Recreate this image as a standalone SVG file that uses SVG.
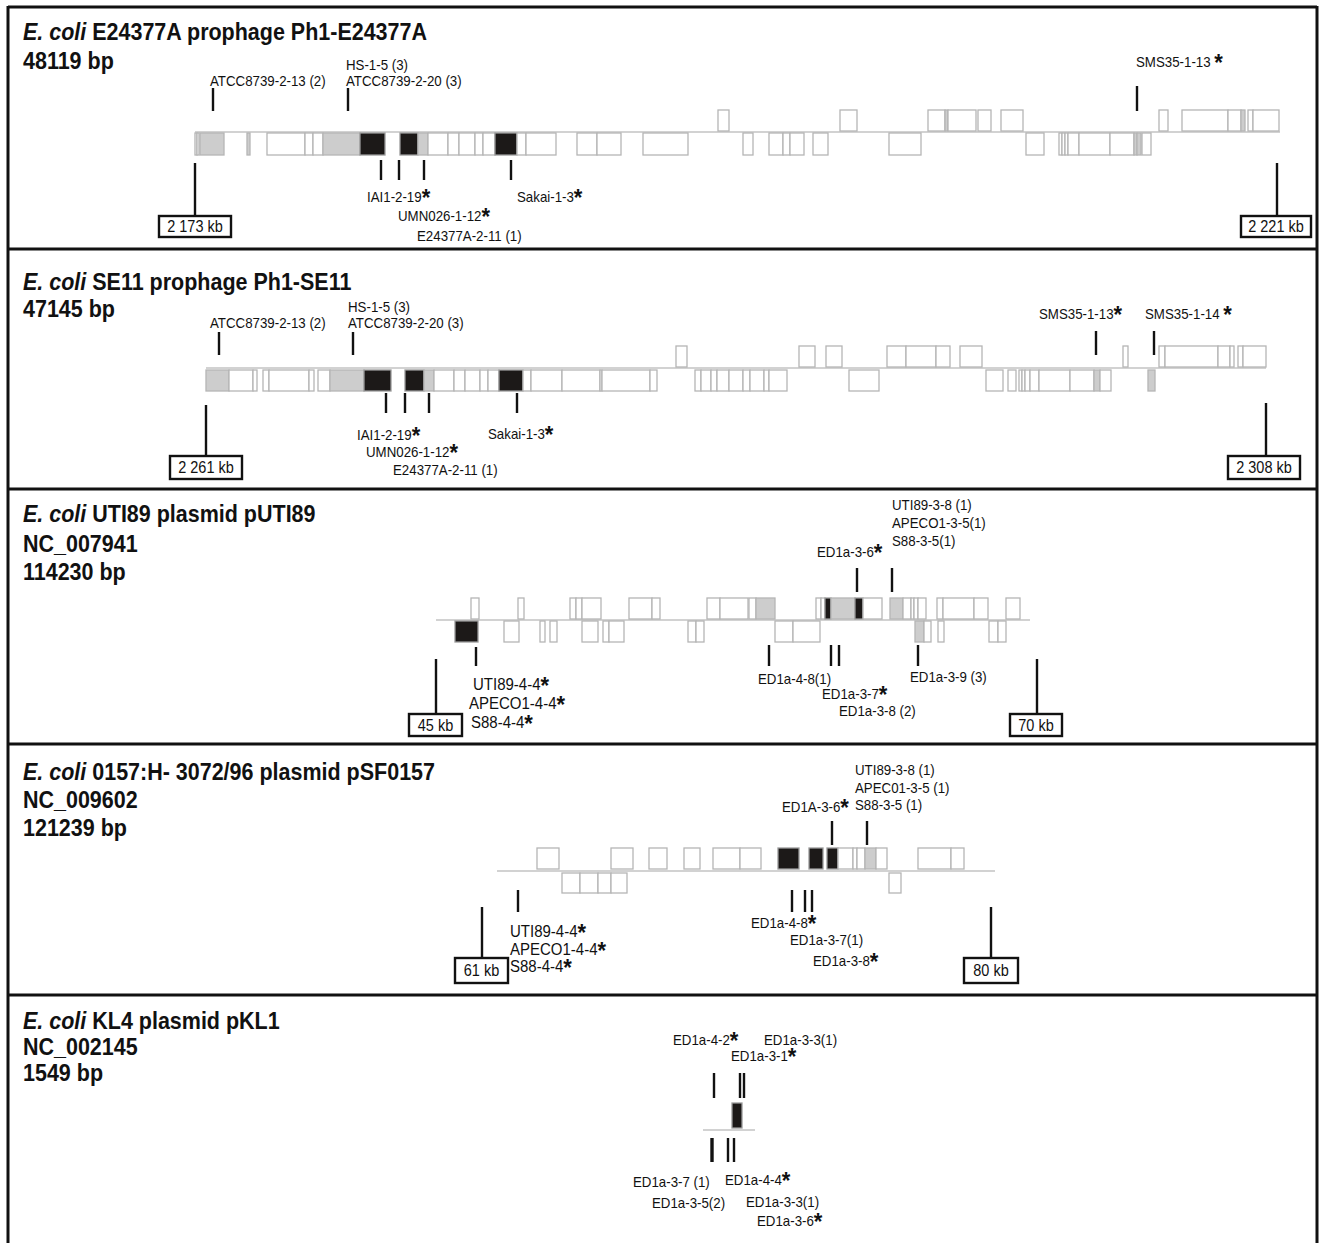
<svg xmlns="http://www.w3.org/2000/svg" width="1320" height="1243" viewBox="0 0 1320 1243">
<style>
text{font-family:"Liberation Sans",Arial,sans-serif;fill:#111;transform-box:fill-box;transform-origin:0% 100%;transform:scaleY(1.08)}
.ti{font-size:21.5px;font-weight:bold}
.it{font-style:italic}
.lb{font-size:13.3px}
.lb2{font-size:15px}
.st{font-size:22px;font-weight:bold}
.kt{font-size:14.5px;text-anchor:middle}
.trk{stroke:#d2d2d2;stroke-width:2;fill:none}
.genes rect{fill:#fff;stroke:#b5b5b5;stroke-width:1.3}
.genes rect.gy{fill:#cdcdcd}
.genes rect.bk{fill:#1c1918;stroke:#9a9a9a}
.kb{fill:#fff;stroke:#111;stroke-width:2.4}
.frame{stroke:#111;stroke-width:3;fill:none}
#connectors line{stroke:#111;stroke-width:2.4}
</style>

<g id="frame">
<line class="frame" x1="8" y1="7" x2="1317" y2="7"/>
<line class="frame" x1="8" y1="6" x2="8" y2="1243"/>
<line class="frame" x1="1317" y1="6" x2="1317" y2="1243"/>
<line class="frame" x1="8" y1="249" x2="1317" y2="249"/>
<line class="frame" x1="8" y1="489" x2="1317" y2="489"/>
<line class="frame" x1="8" y1="744" x2="1317" y2="744"/>
<line class="frame" x1="8" y1="995" x2="1317" y2="995"/>
</g>

<g id="panel1">
<text class="ti" x="23" y="40"><tspan class="it">E. coli</tspan> E24377A prophage Ph1-E24377A</text>
<text class="ti" x="23" y="69">48119 bp</text>
<line class="trk" x1="195" y1="132" x2="1280" y2="132"/>
<g class="genes">
<rect x="718" y="110" width="11" height="21"/>
<rect x="840" y="110" width="17" height="21"/>
<rect x="928" y="110" width="17" height="21"/>
<rect class="gy" x="945" y="110" width="3" height="21"/>
<rect x="948" y="110" width="28" height="21"/>
<rect x="978" y="110" width="13" height="21"/>
<rect x="1001" y="110" width="22" height="21"/>
<rect x="1159" y="110" width="9" height="21"/>
<rect x="1182" y="110" width="46" height="21"/>
<rect x="1228" y="110" width="13" height="21"/>
<rect class="gy" x="1241" y="110" width="4" height="21"/>
<rect x="1248" y="110" width="5" height="21"/>
<rect x="1253" y="110" width="26" height="21"/>
<rect x="195" y="133" width="2" height="22"/>
<rect x="197" y="133" width="2" height="22"/>
<rect class="gy" x="200" y="133" width="24" height="22"/>
<rect class="gy" x="247" y="133" width="3" height="22"/>
<rect x="267" y="133" width="38" height="22"/>
<rect x="305" y="133" width="8" height="22"/>
<rect x="313" y="133" width="10" height="22"/>
<rect class="gy" x="323" y="133" width="37" height="22"/>
<rect class="bk" x="360" y="133" width="25" height="22"/>
<rect class="bk" x="400" y="133" width="18" height="22"/>
<rect class="gy" x="418" y="133" width="10" height="22"/>
<rect x="428" y="133" width="20" height="22"/>
<rect x="448" y="133" width="11" height="22"/>
<rect x="459" y="133" width="16" height="22"/>
<rect x="475" y="133" width="8" height="22"/>
<rect x="483" y="133" width="12" height="22"/>
<rect class="bk" x="495" y="133" width="22" height="22"/>
<rect x="517" y="133" width="9" height="22"/>
<rect x="526" y="133" width="30" height="22"/>
<rect x="577" y="133" width="20" height="22"/>
<rect x="597" y="133" width="24" height="22"/>
<rect x="643" y="133" width="45" height="22"/>
<rect x="743" y="133" width="10" height="22"/>
<rect x="769" y="133" width="14" height="22"/>
<rect x="783" y="133" width="7" height="22"/>
<rect x="790" y="133" width="14" height="22"/>
<rect x="813" y="133" width="15" height="22"/>
<rect x="889" y="133" width="32" height="22"/>
<rect x="1026" y="133" width="18" height="22"/>
<rect x="1059" y="133" width="3" height="22"/>
<rect x="1062" y="133" width="3" height="22"/>
<rect x="1065" y="133" width="3" height="22"/>
<rect x="1068" y="133" width="11" height="22"/>
<rect x="1079" y="133" width="31" height="22"/>
<rect x="1110" y="133" width="24" height="22"/>
<rect class="gy" x="1134" y="133" width="3" height="22"/>
<rect class="gy" x="1137" y="133" width="4" height="22"/>
<rect x="1142" y="133" width="9" height="22"/>
</g>
<text class="lb" x="210" y="86">ATCC8739-2-13 (2)</text>
<text class="lb" x="346" y="70">HS-1-5 (3)</text>
<text class="lb" x="346" y="86">ATCC8739-2-20 (3)</text>
<text class="lb" x="1136" y="68">SMS35-1-13 <tspan class="st" dy="3">*</tspan></text>
<text class="lb" x="367" y="203">IAI1-2-19<tspan class="st" dy="3">*</tspan></text>
<text class="lb" x="517" y="203">Sakai-1-3<tspan class="st" dy="3">*</tspan></text>
<text class="lb" x="398" y="222">UMN026-1-12<tspan class="st" dy="3">*</tspan></text>
<text class="lb" x="417" y="241">E24377A-2-11 (1)</text>
<rect class="kb" x="159" y="216" width="72" height="21"/>
<text class="kt" x="195" y="232">2 173 kb</text>
<rect class="kb" x="1241" y="216" width="70" height="21"/>
<text class="kt" x="1276" y="232">2 221 kb</text>
</g>

<g id="panel2">
<text class="ti" x="23" y="290"><tspan class="it">E. coli</tspan> SE11 prophage Ph1-SE11</text>
<text class="ti" x="23" y="317">47145 bp</text>
<line class="trk" x1="206" y1="368" x2="1266" y2="368"/>
<g class="genes">
<rect x="676" y="346" width="11" height="21"/>
<rect x="799" y="346" width="16" height="21"/>
<rect x="826" y="346" width="16" height="21"/>
<rect x="887" y="346" width="19" height="21"/>
<rect x="906" y="346" width="30" height="21"/>
<rect x="936" y="346" width="14" height="21"/>
<rect x="960" y="346" width="22" height="21"/>
<rect x="1123" y="346" width="5" height="21"/>
<rect x="1159" y="346" width="6" height="21"/>
<rect x="1165" y="346" width="53" height="21"/>
<rect x="1218" y="346" width="12" height="21"/>
<rect x="1230" y="346" width="4" height="21"/>
<rect x="1238" y="346" width="5" height="21"/>
<rect x="1243" y="346" width="23" height="21"/>
<rect class="gy" x="206" y="370" width="23" height="21"/>
<rect x="229" y="370" width="24" height="21"/>
<rect x="253" y="370" width="4" height="21"/>
<rect x="263" y="370" width="6" height="21"/>
<rect x="269" y="370" width="40" height="21"/>
<rect x="309" y="370" width="5" height="21"/>
<rect x="318" y="370" width="12" height="21"/>
<rect class="gy" x="330" y="370" width="34" height="21"/>
<rect class="bk" x="364" y="370" width="27" height="21"/>
<rect class="bk" x="405" y="370" width="19" height="21"/>
<rect class="gy" x="424" y="370" width="10" height="21"/>
<rect x="434" y="370" width="20" height="21"/>
<rect x="454" y="370" width="11" height="21"/>
<rect x="465" y="370" width="15" height="21"/>
<rect x="480" y="370" width="8" height="21"/>
<rect x="488" y="370" width="11" height="21"/>
<rect class="bk" x="499" y="370" width="24" height="21"/>
<rect x="523" y="370" width="8" height="21"/>
<rect x="531" y="370" width="31" height="21"/>
<rect x="562" y="370" width="38" height="21"/>
<rect x="600" y="370" width="2" height="21"/>
<rect x="602" y="370" width="48" height="21"/>
<rect x="650" y="370" width="7" height="21"/>
<rect x="695" y="370" width="6" height="21"/>
<rect x="701" y="370" width="10" height="21"/>
<rect x="711" y="370" width="6" height="21"/>
<rect x="717" y="370" width="12" height="21"/>
<rect x="729" y="370" width="14" height="21"/>
<rect x="743" y="370" width="7" height="21"/>
<rect x="750" y="370" width="14" height="21"/>
<rect x="764" y="370" width="5" height="21"/>
<rect x="769" y="370" width="18" height="21"/>
<rect x="849" y="370" width="30" height="21"/>
<rect x="986" y="370" width="17" height="21"/>
<rect x="1008" y="370" width="8" height="21"/>
<rect x="1019" y="370" width="3" height="21"/>
<rect x="1022" y="370" width="3" height="21"/>
<rect x="1025" y="370" width="5" height="21"/>
<rect x="1030" y="370" width="9" height="21"/>
<rect x="1039" y="370" width="31" height="21"/>
<rect x="1070" y="370" width="24" height="21"/>
<rect class="gy" x="1094" y="370" width="6" height="21"/>
<rect x="1100" y="370" width="11" height="21"/>
<rect class="gy" x="1148" y="370" width="7" height="21"/>
</g>
<text class="lb" x="210" y="328">ATCC8739-2-13 (2)</text>
<text class="lb" x="348" y="312">HS-1-5 (3)</text>
<text class="lb" x="348" y="328">ATCC8739-2-20 (3)</text>
<text class="lb" x="1039" y="320">SMS35-1-13<tspan class="st" dy="3">*</tspan></text>
<text class="lb" x="1145" y="320">SMS35-1-14 <tspan class="st" dy="3">*</tspan></text>
<text class="lb" x="357" y="441">IAI1-2-19<tspan class="st" dy="3">*</tspan></text>
<text class="lb" x="488" y="440">Sakai-1-3<tspan class="st" dy="3">*</tspan></text>
<text class="lb" x="366" y="458">UMN026-1-12<tspan class="st" dy="3">*</tspan></text>
<text class="lb" x="393" y="475">E24377A-2-11 (1)</text>
<rect class="kb" x="170" y="456" width="72" height="23"/>
<text class="kt" x="206" y="473">2 261 kb</text>
<rect class="kb" x="1228" y="456" width="72" height="23"/>
<text class="kt" x="1264" y="473">2 308 kb</text>
</g>

<g id="panel3">
<text class="ti" x="23" y="522"><tspan class="it">E. coli</tspan> UTI89 plasmid pUTI89</text>
<text class="ti" x="23" y="552">NC_007941</text>
<text class="ti" x="23" y="580">114230 bp</text>
<line class="trk" x1="436" y1="620" x2="1030" y2="620"/>
<g class="genes">
<rect x="471" y="598" width="8" height="21"/>
<rect x="518" y="598" width="6" height="21"/>
<rect x="570" y="598" width="6" height="21"/>
<rect x="576" y="598" width="6" height="21"/>
<rect x="582" y="598" width="19" height="21"/>
<rect x="629" y="598" width="23" height="21"/>
<rect x="652" y="598" width="8" height="21"/>
<rect x="707" y="598" width="13" height="21"/>
<rect x="720" y="598" width="28" height="21"/>
<rect x="749" y="598" width="7" height="21"/>
<rect class="gy" x="756" y="598" width="19" height="21"/>
<rect x="816" y="598" width="5" height="21"/>
<rect x="821" y="598" width="4" height="21"/>
<rect class="bk" x="825" y="598" width="6" height="21"/>
<rect class="gy" x="831" y="598" width="24" height="21"/>
<rect class="bk" x="855" y="598" width="8" height="21"/>
<rect x="863" y="598" width="19" height="21"/>
<rect class="gy" x="890" y="598" width="13" height="21"/>
<rect x="903" y="598" width="8" height="21"/>
<rect x="911" y="598" width="3" height="21"/>
<rect x="914" y="598" width="4" height="21"/>
<rect x="918" y="598" width="8" height="21"/>
<rect x="937" y="598" width="6" height="21"/>
<rect x="943" y="598" width="31" height="21"/>
<rect x="974" y="598" width="14" height="21"/>
<rect x="1006" y="598" width="14" height="21"/>
<rect class="bk" x="455" y="621" width="23" height="21"/>
<rect x="504" y="621" width="15" height="21"/>
<rect x="540" y="621" width="5" height="21"/>
<rect x="550" y="621" width="7" height="21"/>
<rect x="582" y="621" width="16" height="21"/>
<rect x="603" y="621" width="6" height="21"/>
<rect x="609" y="621" width="15" height="21"/>
<rect x="688" y="621" width="8" height="21"/>
<rect x="696" y="621" width="8" height="21"/>
<rect x="775" y="621" width="18" height="21"/>
<rect x="793" y="621" width="27" height="21"/>
<rect class="gy" x="915" y="621" width="9" height="21"/>
<rect x="924" y="621" width="7" height="21"/>
<rect x="938" y="621" width="6" height="21"/>
<rect x="989" y="621" width="9" height="21"/>
<rect x="998" y="621" width="8" height="21"/>
</g>
<text class="lb" x="892" y="510">UTI89-3-8 (1)</text>
<text class="lb" x="892" y="528">APECO1-3-5(1)</text>
<text class="lb" x="892" y="546">S88-3-5(1)</text>
<text class="lb" x="817" y="558">ED1a-3-6<tspan class="st" dy="3">*</tspan></text>
<text class="lb2" x="473" y="691">UTI89-4-4<tspan class="st" dy="3">*</tspan></text>
<text class="lb2" x="469" y="710">APECO1-4-4<tspan class="st" dy="3">*</tspan></text>
<text class="lb2" x="471" y="729">S88-4-4<tspan class="st" dy="3">*</tspan></text>
<text class="lb" x="758" y="684">ED1a-4-8(1)</text>
<text class="lb" x="822" y="700">ED1a-3-7<tspan class="st" dy="3">*</tspan></text>
<text class="lb" x="839" y="716">ED1a-3-8 (2)</text>
<text class="lb" x="910" y="682">ED1a-3-9 (3)</text>
<rect class="kb" x="409" y="714" width="53" height="22"/>
<text class="kt" x="435.5" y="731">45 kb</text>
<rect class="kb" x="1010" y="714" width="52" height="22"/>
<text class="kt" x="1036" y="731">70 kb</text>
</g>

<g id="panel4">
<text class="ti" x="23" y="780"><tspan class="it">E. coli</tspan> 0157:H- 3072/96 plasmid pSF0157</text>
<text class="ti" x="23" y="808">NC_009602</text>
<text class="ti" x="23" y="836">121239 bp</text>
<line class="trk" x1="497" y1="871" x2="995" y2="871"/>
<g class="genes">
<rect x="537" y="848" width="22" height="21"/>
<rect x="611" y="848" width="22" height="21"/>
<rect x="649" y="848" width="18" height="21"/>
<rect x="684" y="848" width="16" height="21"/>
<rect x="713" y="848" width="27" height="21"/>
<rect x="740" y="848" width="21" height="21"/>
<rect class="bk" x="778" y="848" width="21" height="21"/>
<rect class="bk" x="809" y="848" width="14" height="21"/>
<rect class="bk" x="827" y="848" width="11" height="21"/>
<rect x="838" y="848" width="15" height="21"/>
<rect x="853" y="848" width="4" height="21"/>
<rect x="857" y="848" width="8" height="21"/>
<rect class="gy" x="865" y="848" width="11" height="21"/>
<rect x="876" y="848" width="11" height="21"/>
<rect x="918" y="848" width="33" height="21"/>
<rect x="951" y="848" width="13" height="21"/>
<rect x="562" y="873" width="18" height="20"/>
<rect x="580" y="873" width="18" height="20"/>
<rect x="598" y="873" width="13" height="20"/>
<rect x="611" y="873" width="16" height="20"/>
<rect x="889" y="873" width="12" height="20"/>
</g>
<text class="lb" x="855" y="775">UTI89-3-8 (1)</text>
<text class="lb" x="855" y="793">APEC01-3-5 (1)</text>
<text class="lb" x="855" y="810">S88-3-5 (1)</text>
<text class="lb" x="782" y="813">ED1A-3-6<tspan class="st" dy="3">*</tspan></text>
<text class="lb2" x="510" y="938">UTI89-4-4<tspan class="st" dy="3">*</tspan></text>
<text class="lb2" x="510" y="956">APECO1-4-4<tspan class="st" dy="3">*</tspan></text>
<text class="lb2" x="510" y="973">S88-4-4<tspan class="st" dy="3">*</tspan></text>
<text class="lb" x="751" y="929">ED1a-4-8<tspan class="st" dy="3">*</tspan></text>
<text class="lb" x="790" y="945">ED1a-3-7(1)</text>
<text class="lb" x="813" y="967">ED1a-3-8<tspan class="st" dy="3">*</tspan></text>
<rect class="kb" x="455" y="958" width="53" height="25"/>
<text class="kt" x="481.5" y="976">61 kb</text>
<rect class="kb" x="964" y="958" width="54" height="25"/>
<text class="kt" x="991" y="976">80 kb</text>
</g>

<g id="panel5">
<text class="ti" x="23" y="1029"><tspan class="it">E. coli</tspan> KL4 plasmid pKL1</text>
<text class="ti" x="23" y="1055">NC_002145</text>
<text class="ti" x="23" y="1081">1549 bp</text>
<line class="trk" x1="703" y1="1130" x2="755" y2="1130"/>
<g class="genes">
<rect class="bk" x="732" y="1103" width="10" height="25"/>
</g>
<text class="lb" x="673" y="1046">ED1a-4-2<tspan class="st" dy="3">*</tspan></text>
<text class="lb" x="764" y="1045">ED1a-3-3(1)</text>
<text class="lb" x="731" y="1062">ED1a-3-1<tspan class="st" dy="3">*</tspan></text>
<text class="lb" x="633" y="1187">ED1a-3-7 (1)</text>
<text class="lb" x="725" y="1186">ED1a-4-4<tspan class="st" dy="3">*</tspan></text>
<text class="lb" x="652" y="1208">ED1a-3-5(2)</text>
<text class="lb" x="746" y="1207">ED1a-3-3(1)</text>
<text class="lb" x="757" y="1227">ED1a-3-6<tspan class="st" dy="3">*</tspan></text>
</g>

<g id="connectors">
<line x1="213" y1="88" x2="213" y2="111"/>
<line x1="348" y1="88" x2="348" y2="111"/>
<line x1="1137" y1="86" x2="1137" y2="111"/>
<line x1="381" y1="160" x2="381" y2="180"/>
<line x1="399" y1="160" x2="399" y2="180"/>
<line x1="424" y1="160" x2="424" y2="180"/>
<line x1="511" y1="160" x2="511" y2="180"/>
<line x1="195" y1="163" x2="195" y2="216"/>
<line x1="1277" y1="163" x2="1277" y2="216"/>
<line x1="219" y1="332" x2="219" y2="355"/>
<line x1="353" y1="332" x2="353" y2="355"/>
<line x1="1096" y1="331" x2="1096" y2="355"/>
<line x1="1154" y1="331" x2="1154" y2="355"/>
<line x1="386" y1="393" x2="386" y2="413"/>
<line x1="405" y1="393" x2="405" y2="413"/>
<line x1="429" y1="393" x2="429" y2="413"/>
<line x1="517" y1="393" x2="517" y2="413"/>
<line x1="206" y1="405" x2="206" y2="456"/>
<line x1="1266" y1="403" x2="1266" y2="456"/>
<line x1="857" y1="568" x2="857" y2="592"/>
<line x1="892" y1="568" x2="892" y2="592"/>
<line x1="476" y1="647" x2="476" y2="666"/>
<line x1="769" y1="645" x2="769" y2="666"/>
<line x1="831" y1="645" x2="831" y2="666"/>
<line x1="839" y1="645" x2="839" y2="666"/>
<line x1="918" y1="645" x2="918" y2="666"/>
<line x1="436" y1="659" x2="436" y2="714"/>
<line x1="1037" y1="659" x2="1037" y2="714"/>
<line x1="832" y1="821" x2="832" y2="845"/>
<line x1="867" y1="821" x2="867" y2="845"/>
<line x1="518" y1="890" x2="518" y2="912"/>
<line x1="792" y1="890" x2="792" y2="912"/>
<line x1="805" y1="890" x2="805" y2="912"/>
<line x1="812" y1="890" x2="812" y2="912"/>
<line x1="482" y1="907" x2="482" y2="958"/>
<line x1="991" y1="907" x2="991" y2="958"/>
<line x1="714" y1="1073" x2="714" y2="1098"/>
<line x1="740" y1="1073" x2="740" y2="1098"/>
<line x1="744" y1="1073" x2="744" y2="1098"/>
<line x1="712" y1="1138" x2="712" y2="1162" style="stroke-width:3.4"/>
<line x1="728" y1="1138" x2="728" y2="1162"/>
<line x1="734" y1="1138" x2="734" y2="1162"/>
</g>
</svg>
